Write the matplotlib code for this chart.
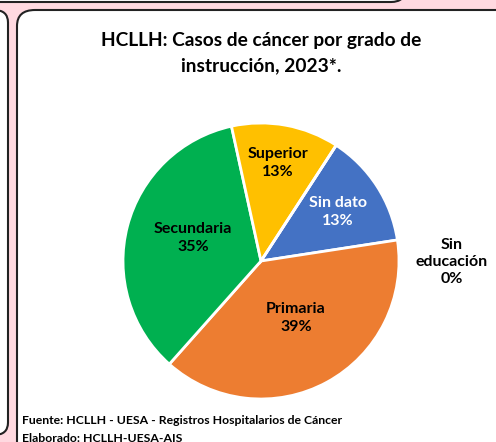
import matplotlib
matplotlib.use("Agg")
import matplotlib.pyplot as plt
from matplotlib.patches import FancyBboxPatch

categorias = ['Sin dato', 'Primaria', 'Secundaria', 'Superior', 'Sin educación']
valores = [13.4, 39.0, 35.0, 12.6, 0.0]
etiquetas = ['13%', '39%', '35%', '13%', '0%']
colores = ['#4472C4', '#ED7D31', '#00B050', '#FFC000', '#A5A5A5']

W, H = 496, 442
plt.rcParams['font.family'] = ['Lato', 'DejaVu Sans']

fig = plt.figure(figsize=(W / 100, H / 100), dpi=100)
fig.patch.set_facecolor('#FFD9E0')


def panel(x0, y0, x1, y1, r=14):
    # pixel coords from top-left
    p = FancyBboxPatch((x0 / W, 1 - y1 / H), (x1 - x0) / W, (y1 - y0) / H,
                       boxstyle='round,pad=0,rounding_size=%f' % (r / W),
                       transform=fig.transFigure, facecolor='white',
                       edgecolor='#222222', linewidth=1.5, zorder=-5)
    fig.patches.append(p)


panel(-20, -40, 405, 2)
panel(-20, 10, 8, 435)
panel(17, 10, 520, 470, r=18)

# pie
cx, cy, R = 261, 261, 138
ax = fig.add_axes([(cx - 150) / W, (H - cy - 150) / H, 300 / W, 300 / H])
ax.set_zorder(2)
ax.patch.set_visible(False)
ax.pie(valores, colors=colores, startangle=57, counterclock=False, radius=1,
       wedgeprops=dict(edgecolor='white', linewidth=2))
ax.set_xlim(-150 / R, 150 / R)
ax.set_ylim(-150 / R, 150 / R)
ax.set_aspect('auto')
ax.axis('off')

pos = [(338, 212), (296, 318), (193, 238), (278, 163), (452, 262)]
for cat, et, (px, py) in zip(categorias, etiquetas, pos):
    nombre = cat if cat != 'Sin educación' else 'Sin\neducación'
    col = 'white' if cat == 'Sin dato' else 'black'
    ax.text((px - cx) / R, (cy - py) / R, nombre + '\n' + et, ha='center', va='center',
            fontsize=11.5, fontweight='bold', color=col, linespacing=1.3)

fig.text(261 / W, 1 - 53 / H, 'HCLLH: Casos de cáncer por grado de\ninstrucción, 2023*.',
         ha='center', va='center', fontsize=13.8, fontweight='bold', linespacing=1.55)

fig.text(22 / W, 1 - 421 / H, 'Fuente: HCLLH - UESA - Registros Hospitalarios de Cáncer',
         ha='left', va='center', fontsize=8.8, fontweight='bold')
fig.text(22 / W, 1 - 438 / H, 'Elaborado: HCLLH-UESA-AIS',
         ha='left', va='center', fontsize=8.8, fontweight='bold')

fig.savefig('out.png', dpi=100, facecolor=fig.get_facecolor())
